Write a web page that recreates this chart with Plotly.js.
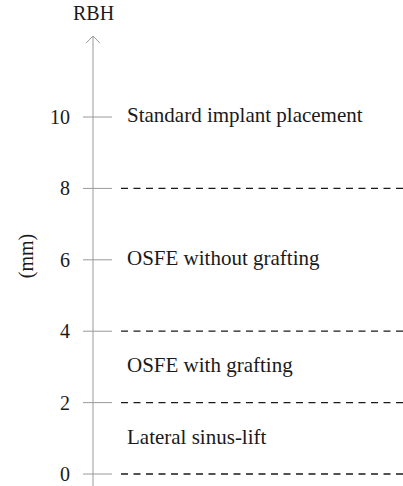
<!DOCTYPE html>
<html><head><meta charset="utf-8">
<script src="https://cdn.plot.ly/plotly-3.0.1.min.js"></script>
<style>html,body{margin:0;padding:0;background:#fff}#c{width:403px;height:486px}</style>
</head><body><div id="c"></div>
<script>
// Tick values of the RBH axis (mm)
const tickVals = [0, 2, 4, 6, 8, 10];
// Threshold levels drawn as dashed lines
const thresholds = [0, 2, 4, 8];
// Region labels and their RBH positions
const regionLabels = ["Standard implant placement", "OSFE without grafting", "OSFE with grafting", "Lateral sinus-lift"];
const regionLevels = [10, 6, 3, 1];
const axisBottom = -0.336;
const axisTop = 12.27;
const rangeTop = 12.55;

const FONT = "Liberation Serif, Times New Roman, serif";
const AX = '#9a9a9a';
const traces = [];
// axis line
traces.push({x: [0, 0], y: [axisBottom, axisTop], mode: 'lines', hoverinfo: 'skip',
  line: {color: AX, width: 1}});
// dashed threshold lines
thresholds.forEach(v => {
  traces.push({x: [28, 310], y: [v, v], mode: 'lines', hoverinfo: 'skip',
    line: {color: '#1a1a1a', width: 1.3, dash: '7px,5.5px'}});
});
// tick crosses
tickVals.forEach(v => {
  traces.push({x: [-16, 19], y: [v, v], mode: 'lines', hoverinfo: 'skip',
    line: {color: AX, width: 1}});
});
// arrow head
traces.push({x: [-7, 0, 7], y: [axisTop - 0.2, axisTop, axisTop - 0.2], mode: 'lines',
  line: {color: AX, width: 1}, hoverinfo: 'skip'});
// region labels
traces.push({x: regionLabels.map(() => 34), y: regionLevels, text: regionLabels,
  mode: 'text', textposition: 'middle right', cliponaxis: false,
  textfont: {family: FONT, size: 21, color: '#1a1a1a'}, hoverinfo: 'skip'});

const layout = {
  width: 403, height: 486,
  margin: {l: 83, r: 0, t: 26, b: 0},
  showlegend: false,
  paper_bgcolor: '#fff', plot_bgcolor: '#fff',
  xaxis: {range: [-10, 310], visible: false, fixedrange: true},
  yaxis: {range: [axisBottom, rangeTop], showgrid: false, zeroline: false,
    showline: false,
    tickvals: tickVals, ticks: '', ticklabelstandoff: 12,
    tickfont: {family: FONT, size: 20, color: '#1a1a1a'},
    title: {text: '(mm)', font: {family: FONT, size: 20, color: '#1a1a1a'}, standoff: 11}},
  annotations: [{text: 'RBH', xref: 'x', x: 0, xanchor: 'center', yref: 'paper', y: 1, yanchor: 'bottom',
    yshift: 0, showarrow: false, font: {family: FONT, size: 20, color: '#1a1a1a'}}]
};
Plotly.newPlot('c', traces, layout, {staticPlot: true, displayModeBar: false});
</script></body></html>
